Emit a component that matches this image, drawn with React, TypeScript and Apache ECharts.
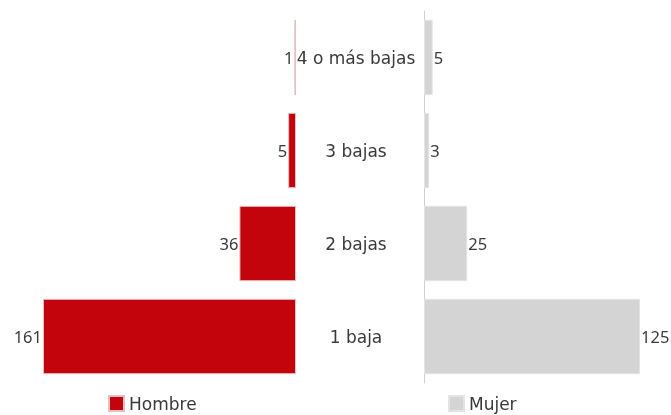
import React, { useEffect, useRef } from "react";
import * as echarts from "echarts";

const categories = ["1 baja", "2 bajas", "3 bajas", "4 o más bajas"];
const hombre = [161, 36, 5, 1];
const mujer = [125, 25, 3, 5];

export default function App() {
  const ref = useRef<HTMLDivElement>(null);
  useEffect(() => {
    if (!ref.current) return;
    const chart = echarts.init(ref.current, undefined, { renderer: "svg" });
    const font = "DejaVu Sans";
    const numFont = "Noto Sans";
    const textColor = "#3a3a3a";
    const fs = 17;
    const numFs = 16.5;
    chart.setOption({
      animation: false,
      textStyle: { fontFamily: font },
      legend: [
        {
          data: ["Hombre"],
          left: 108,
          top: 395,
          itemWidth: 15,
          itemHeight: 15,
          itemGap: 8,
          icon: "rect",
          padding: 0,
          textStyle: { fontFamily: font, fontSize: fs, color: textColor },
        },
        {
          data: ["Mujer"],
          left: 448,
          top: 395,
          itemWidth: 15,
          itemHeight: 15,
          icon: "rect",
          padding: 0,
          textStyle: { fontFamily: font, fontSize: fs, color: textColor },
        },
      ],
      grid: [
        { left: 43, width: 253, top: 11, height: 372 },
        { left: 424, width: 216, top: 11, height: 372 },
      ],
      xAxis: [
        { type: "value", gridIndex: 0, min: 0, max: 161, inverse: true, show: false },
        { type: "value", gridIndex: 1, min: 0, max: 125, show: false },
      ],
      yAxis: [
        {
          type: "category",
          gridIndex: 0,
          data: categories,
          position: "right",
          axisLine: { show: false },
          axisTick: { show: false },
          axisLabel: { show: false },
        },
        {
          type: "category",
          gridIndex: 1,
          data: categories,
          position: "left",
          axisLine: { show: true, lineStyle: { color: "#d0d0d0", width: 1 } },
          axisTick: { show: false },
          axisLabel: {
            show: true,
            align: "center",
            margin: 68,
            fontFamily: font,
            fontSize: fs,
            color: textColor,
          },
        },
      ],
      series: [
        {
          name: "Hombre",
          type: "bar",
          xAxisIndex: 0,
          yAxisIndex: 0,
          data: hombre,
          barCategoryGap: "19%",
          itemStyle: { color: "#c4040c", borderColor: "#e3c0c2", borderWidth: 1 },
          label: {
            show: true,
            position: "left",
            distance: 1,
            fontFamily: numFont,
            fontSize: numFs,
            color: textColor,
          },
        },
        {
          name: "Mujer",
          type: "bar",
          xAxisIndex: 1,
          yAxisIndex: 1,
          data: mujer,
          barCategoryGap: "19%",
          itemStyle: { color: "#d4d4d4", borderColor: "#e4e4e4", borderWidth: 1 },
          label: {
            show: true,
            position: "right",
            distance: 1,
            fontFamily: numFont,
            fontSize: numFs,
            color: textColor,
          },
        },
      ],
    });
    return () => chart.dispose();
  }, []);
  return (
    <div
      ref={ref}
      style={{ position: "fixed", left: 0, top: 0, width: 671, height: 415 }}
    />
  );
}
